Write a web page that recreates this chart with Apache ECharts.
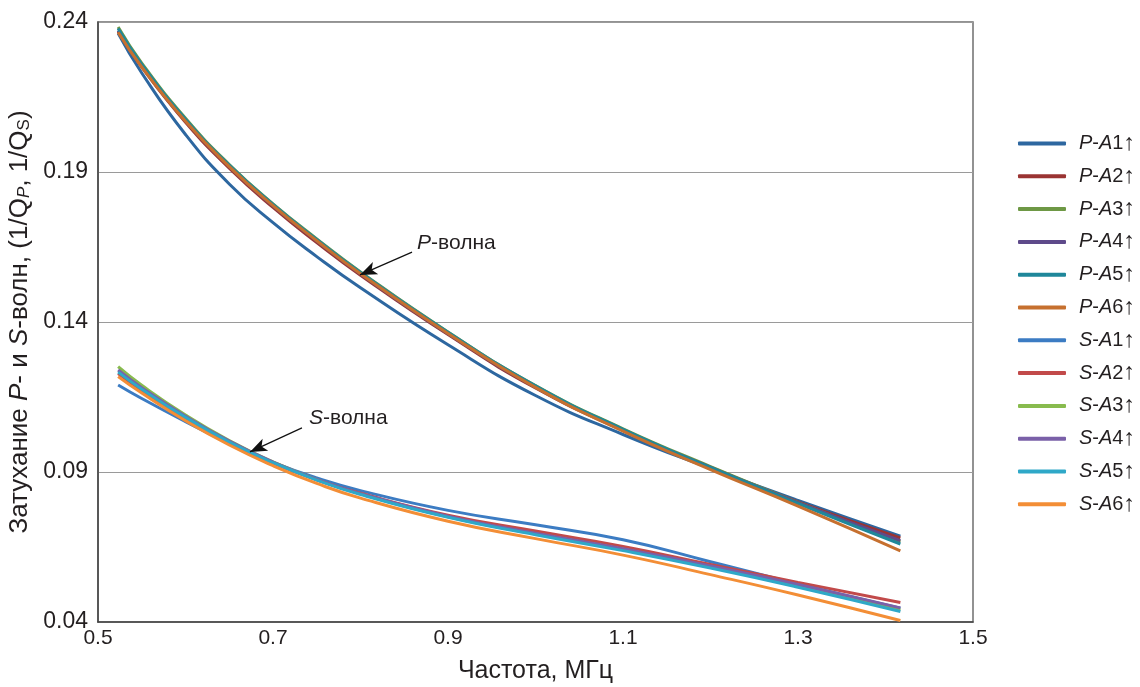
<!DOCTYPE html>
<html>
<head>
<meta charset="utf-8">
<script src="https://cdn.jsdelivr.net/npm/echarts@6/dist/echarts.min.js"></script>
<style>
  html, body { margin: 0; padding: 0; background: #fff; }
  #chart { width: 1140px; height: 687px; }
</style>
</head>
<body>
<div id="chart"></div>
<script>
// Frequency samples, MHz
const freq = [0.523, 0.55, 0.6, 0.65, 0.7, 0.75, 0.8, 0.9, 1.0, 1.1, 1.2, 1.3, 1.417];

// P-wave attenuation 1/Q_P
const pA1 = [0.2362, 0.2230, 0.2025, 0.1860, 0.1731, 0.1618, 0.1514, 0.1324, 0.1155, 0.1025, 0.0912, 0.0805, 0.0686];
const pA2 = [0.2368, 0.2250, 0.2066, 0.1913, 0.1782, 0.1665, 0.1556, 0.1358, 0.1180, 0.1039, 0.0916, 0.0800, 0.0680];
const pA3 = [0.2383, 0.2263, 0.2079, 0.1925, 0.1794, 0.1677, 0.1567, 0.1367, 0.1188, 0.1044, 0.0918, 0.0799, 0.0667];
const pA4 = [0.2372, 0.2254, 0.2071, 0.1918, 0.1787, 0.1670, 0.1560, 0.1361, 0.1183, 0.1040, 0.0915, 0.0798, 0.0671];
const pA5 = [0.2378, 0.2259, 0.2076, 0.1923, 0.1792, 0.1675, 0.1565, 0.1366, 0.1187, 0.1042, 0.0915, 0.0795, 0.0660];
const pA6 = [0.2366, 0.2250, 0.2069, 0.1918, 0.1788, 0.1671, 0.1561, 0.1362, 0.1182, 0.1036, 0.0908, 0.0786, 0.0637];

// S-wave attenuation 1/Q_S
const sA1 = [0.1190, 0.1145, 0.1068, 0.0995, 0.0932, 0.0880, 0.0838, 0.0772, 0.0724, 0.0674, 0.0601, 0.0527, 0.0446];
const sA2 = [0.1228, 0.1172, 0.1079, 0.0998, 0.0930, 0.0874, 0.0829, 0.0756, 0.0703, 0.0652, 0.0592, 0.0532, 0.0465];
const sA3 = [0.1251, 0.1189, 0.1090, 0.1005, 0.0934, 0.0875, 0.0827, 0.0751, 0.0694, 0.0642, 0.0584, 0.0520, 0.0440];
const sA4 = [0.1240, 0.1181, 0.1086, 0.1003, 0.0933, 0.0875, 0.0828, 0.0753, 0.0696, 0.0644, 0.0587, 0.0525, 0.0447];
const sA5 = [0.1233, 0.1176, 0.1082, 0.1000, 0.0931, 0.0873, 0.0825, 0.0749, 0.0691, 0.0638, 0.0580, 0.0516, 0.0435];
const sA6 = [0.1218, 0.1163, 0.1071, 0.0990, 0.0921, 0.0862, 0.0813, 0.0736, 0.0678, 0.0623, 0.0558, 0.0490, 0.0405];

const seriesNames = ['P-A1', 'P-A2', 'P-A3', 'P-A4', 'P-A5', 'P-A6', 'S-A1', 'S-A2', 'S-A3', 'S-A4', 'S-A5', 'S-A6'];
const seriesValues = [pA1, pA2, pA3, pA4, pA5, pA6, sA1, sA2, sA3, sA4, sA5, sA6];
const seriesColors = ['#2d67a0', '#9a3433', '#6e9845', '#5e4a8a', '#1f879a', '#c6702f',
                      '#3c7cc3', '#c24a4a', '#88bb4e', '#7a60a8', '#2fa8c8', '#f38e36'];

const xTicks = { min: 0.5, max: 1.5, step: 0.2 };
const yTicks = { min: 0.04, max: 0.24, step: 0.05 };

const FONT = 'Liberation Sans, Arial, sans-serif';
const INK = '#231f20';

const chart = echarts.init(document.getElementById('chart'), null, { renderer: 'canvas' });

const series = seriesNames.map((name, i) => ({
  name,
  type: 'line',
  data: freq.map((f, k) => [f, seriesValues[i][k]]),
  smooth: 0.5,
  showSymbol: false,
  symbol: 'none',
  color: seriesColors[i],
  lineStyle: { width: 3, color: seriesColors[i], cap: 'butt' },
  emphasis: { disabled: true },
  z: 2
}));

// Wave-type callouts with arrows
const arrowStyle = { color: '#111', width: 1.2, type: 'solid' };
series.push({
  name: 'callouts',
  type: 'line',
  data: [],
  silent: true,
  markLine: {
    silent: true,
    animation: false,
    symbol: ['none', 'arrow'],
    symbolSize: [10, 17],
    lineStyle: arrowStyle,
    label: { show: false },
    data: [
      [{ coord: [0.8589, 0.1633] }, { coord: [0.7994, 0.1557] }],
      [{ coord: [0.7331, 0.1047] }, { coord: [0.6737, 0.0967] }]
    ]
  },
  markPoint: {
    silent: true,
    animation: false,
    symbol: 'circle',
    symbolSize: 0,
    label: {
      show: true,
      position: 'right',
      distance: 0,
      color: INK,
      fontFamily: FONT,
      fontSize: 21,
      formatter: p => '{i|' + p.name.charAt(0) + '}' + p.name.slice(1),
      rich: { i: { fontStyle: 'italic', fontSize: 21, fontFamily: FONT, color: INK } }
    },
    data: [
      { name: 'P-волна', coord: [0.8646, 0.1663] },
      { name: 'S-волна', coord: [0.7411, 0.1080] }
    ]
  }
});

chart.setOption({
  animation: false,
  backgroundColor: '#ffffff',
  textStyle: { fontFamily: FONT, color: INK },
  grid: {
    left: 98, right: 167, top: 22, bottom: 65,
    outerBoundsMode: 'none',
    show: true, borderColor: '#6f6f6f', borderWidth: 1.5, containLabel: false
  },
  legend: {
    orient: 'vertical',
    left: 1013,
    top: 127,
    itemWidth: 48,
    itemHeight: 4,
    itemGap: 9.8,
    icon: 'roundRect',
    data: seriesNames,
    selectedMode: false,
    formatter: n => '{i|' + n.charAt(0) + '}-{i|A}' + n.slice(3) + '{a|↑}',
    textStyle: {
      fontFamily: FONT, fontSize: 20, lineHeight: 20, color: INK,
      padding: [0, 0, 0, 8],
      rich: {
        i: { fontStyle: 'italic', fontFamily: FONT, fontSize: 20, lineHeight: 20, color: INK },
        a: { fontFamily: FONT, fontSize: 23, lineHeight: 20, color: INK }
      }
    }
  },
  xAxis: {
    type: 'value',
    min: xTicks.min, max: xTicks.max, interval: xTicks.step,
    name: 'Частота, МГц',
    nameLocation: 'middle',
    nameGap: 37,
    nameTextStyle: { fontFamily: FONT, fontSize: 25, color: INK },
    axisLine: { show: true, lineStyle: { color: '#444', width: 1.5 } },
    axisTick: { show: false },
    axisLabel: {
      fontFamily: FONT, fontSize: 21, color: INK, margin: 6,
      formatter: v => v.toFixed(1)
    },
    splitLine: { show: false }
  },
  yAxis: {
    type: 'value',
    min: yTicks.min, max: yTicks.max, interval: yTicks.step,
    name: 'Затухание {i|P}- и {i|S}-волн, (1/Q{si|P}, 1/Q{s|S})',
    nameLocation: 'middle',
    nameGap: 62,
    nameRotate: 90,
    nameTextStyle: {
      fontFamily: FONT, fontSize: 26, color: INK,
      rich: {
        i: { fontStyle: 'italic', fontFamily: FONT, fontSize: 26, color: INK },
        si: { fontStyle: 'italic', fontFamily: FONT, fontSize: 17, color: INK, padding: [9, 0, 0, 0] },
        s: { fontFamily: FONT, fontSize: 17, color: INK, padding: [9, 0, 0, 0] }
      }
    },
    axisLine: { show: true, lineStyle: { color: '#444', width: 1.5 } },
    axisTick: { show: false },
    axisLabel: {
      fontFamily: FONT, fontSize: 23, color: INK, margin: 10,
      formatter: v => v.toFixed(2)
    },
    splitLine: { show: true, lineStyle: { color: '#9a9a9a', width: 1.2 } }
  },
  series
});
</script>
</body>
</html>
